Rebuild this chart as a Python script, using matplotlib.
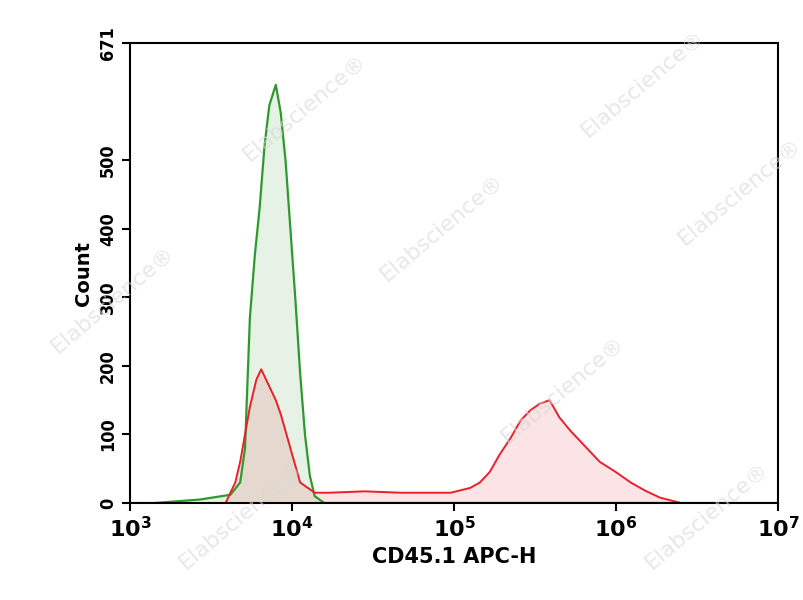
import numpy as np
import matplotlib.pyplot as plt

# log10(fluorescence) and counts
green_logx = [3.00, 3.15, 3.43, 3.62, 3.68, 3.71, 3.74, 3.77, 3.80, 3.83, 3.86, 3.90, 3.93, 3.96,
              3.99, 4.02, 4.05, 4.08, 4.11, 4.14, 4.20, 7.00]
green_count = [0, 0, 5, 12, 30, 80, 270, 360, 430, 520, 580, 610, 570, 500,
               400, 300, 190, 100, 40, 10, 0, 0]

red_logx = [3.00, 3.59, 3.65, 3.68, 3.74, 3.78, 3.81, 3.86, 3.90, 3.93, 3.99, 4.05, 4.14, 4.23,
            4.45, 4.67, 4.98, 5.10, 5.16, 5.22, 5.28, 5.35, 5.41, 5.47, 5.53, 5.59, 5.65,
            5.72, 5.78, 5.90, 6.00, 6.09, 6.18, 6.27, 6.40, 7.00]
red_count = [0, 0, 30, 60, 140, 180, 195, 170, 150, 130, 80, 30, 15, 15,
             17, 15, 15, 22, 30, 45, 70, 95, 120, 135, 145, 150, 125,
             105, 90, 60, 45, 30, 18, 8, 0, 0]

y_ticks = [0, 100, 200, 300, 400, 500, 671]
x_ticks = [3, 4, 5, 6, 7]

fig = plt.figure(figsize=(8.04, 6.0), dpi=100)
ax = fig.add_axes([130/804, 1 - 503/600, 648/804, 460/600])

gx = np.power(10.0, green_logx)
rx = np.power(10.0, red_logx)
ax.fill_between(gx, green_count, color='#2e9a2e', alpha=0.12, lw=0)
ax.fill_between(rx, red_count, color='#e8202a', alpha=0.12, lw=0)
ax.plot(gx, green_count, color='#2e9a2e', lw=1.6)
ax.plot(rx, red_count, color='#e8202a', lw=1.4)

ax.set_xscale('log')
ax.set_xlim(1e3, 1e7)
ax.set_ylim(0, 671)
ax.set_xticks([10.0**k for k in x_ticks])
ax.set_xticklabels([f'$\\mathbf{{10^{k}}}$' for k in x_ticks], fontsize=16)
ax.minorticks_off()
ax.set_yticks(y_ticks)
ax.set_yticklabels([str(v) for v in y_ticks], rotation=90, va='center', fontsize=13,
                   fontweight='bold', fontstretch='condensed')
ax.tick_params(width=1.5, length=6)
for s in ax.spines.values():
    s.set_linewidth(1.5)
ax.set_xlabel('CD45.1 APC-H', fontsize=15, fontweight='bold')
ax.set_ylabel('Count', fontsize=14, fontweight='bold')

# faint watermarks
for (x, y) in [(0.38, 0.82), (0.55, 0.62), (0.8, 0.86), (0.92, 0.68), (0.14, 0.5), (0.7, 0.35),
               (0.3, 0.14), (0.88, 0.14)]:
    fig.text(x, y, 'Elabscience\u00ae', rotation=40, fontsize=16, color='#d8d8d8',
             alpha=0.6, ha='center', va='center', zorder=0)

plt.savefig('out.png')
